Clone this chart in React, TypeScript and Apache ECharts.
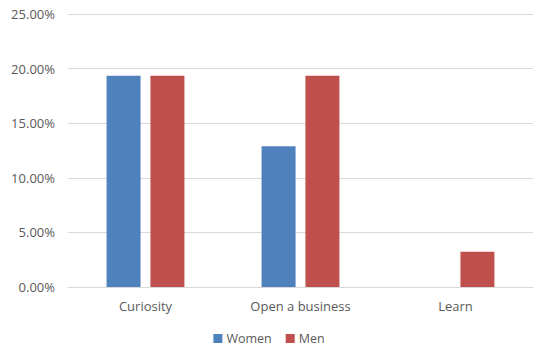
import React, { useEffect, useRef } from "react";
import * as echarts from "echarts";

const categories = ["Curiosity", "Open a business", "Learn"];
const women = [19.35, 12.9, null];
const men = [19.35, 19.35, 3.23];
const seriesNames = ["Women", "Men"];

export default function App() {
  const ref = useRef<HTMLDivElement>(null);
  useEffect(() => {
    if (!ref.current) return;
    const chart = echarts.init(ref.current, null, { renderer: "svg" });
    const font = "'Open Sans', 'Noto Sans', sans-serif";
    chart.setOption({
      animation: false,
      backgroundColor: "#ffffff",
      textStyle: { fontFamily: font },
      grid: { left: 68, right: 5, top: 14, bottom: 70 },
      legend: {
        data: seriesNames,
        bottom: 7,
        left: "center",
        itemWidth: 9,
        itemHeight: 9,
        itemGap: 14,
        icon: "rect",
        textStyle: { color: "#595959", fontSize: 12.5, fontFamily: font, padding: [0, 0, 0, -1] },
      },
      xAxis: {
        type: "category",
        data: categories,
        axisLine: { lineStyle: { color: "#d9d9d9" } },
        axisTick: { show: false },
        axisLabel: { color: "#595959", fontSize: 13, margin: 12, fontFamily: font },
      },
      yAxis: {
        type: "value",
        min: 0,
        max: 25,
        interval: 5,
        axisLine: { show: false },
        axisTick: { show: false },
        splitLine: { lineStyle: { color: "#d9d9d9" } },
        axisLabel: {
          color: "#595959",
          fontSize: 13,
          margin: 13,
          fontFamily: font,
          formatter: (v: number) => v.toFixed(2) + "%",
        },
      },
      series: [
        {
          name: seriesNames[0],
          type: "bar",
          data: women,
          barWidth: 34,
          barGap: "29%",
          itemStyle: { color: "#4f81bd" },
        },
        {
          name: seriesNames[1],
          type: "bar",
          data: men,
          barWidth: 34,
          barGap: "29%",
          itemStyle: { color: "#c0504d" },
        },
      ],
    });
    return () => chart.dispose();
  }, []);
  return (
    <div
      ref={ref}
      style={{ position: "fixed", left: 0, top: 0, width: 538, height: 357, background: "#fff" }}
    />
  );
}
